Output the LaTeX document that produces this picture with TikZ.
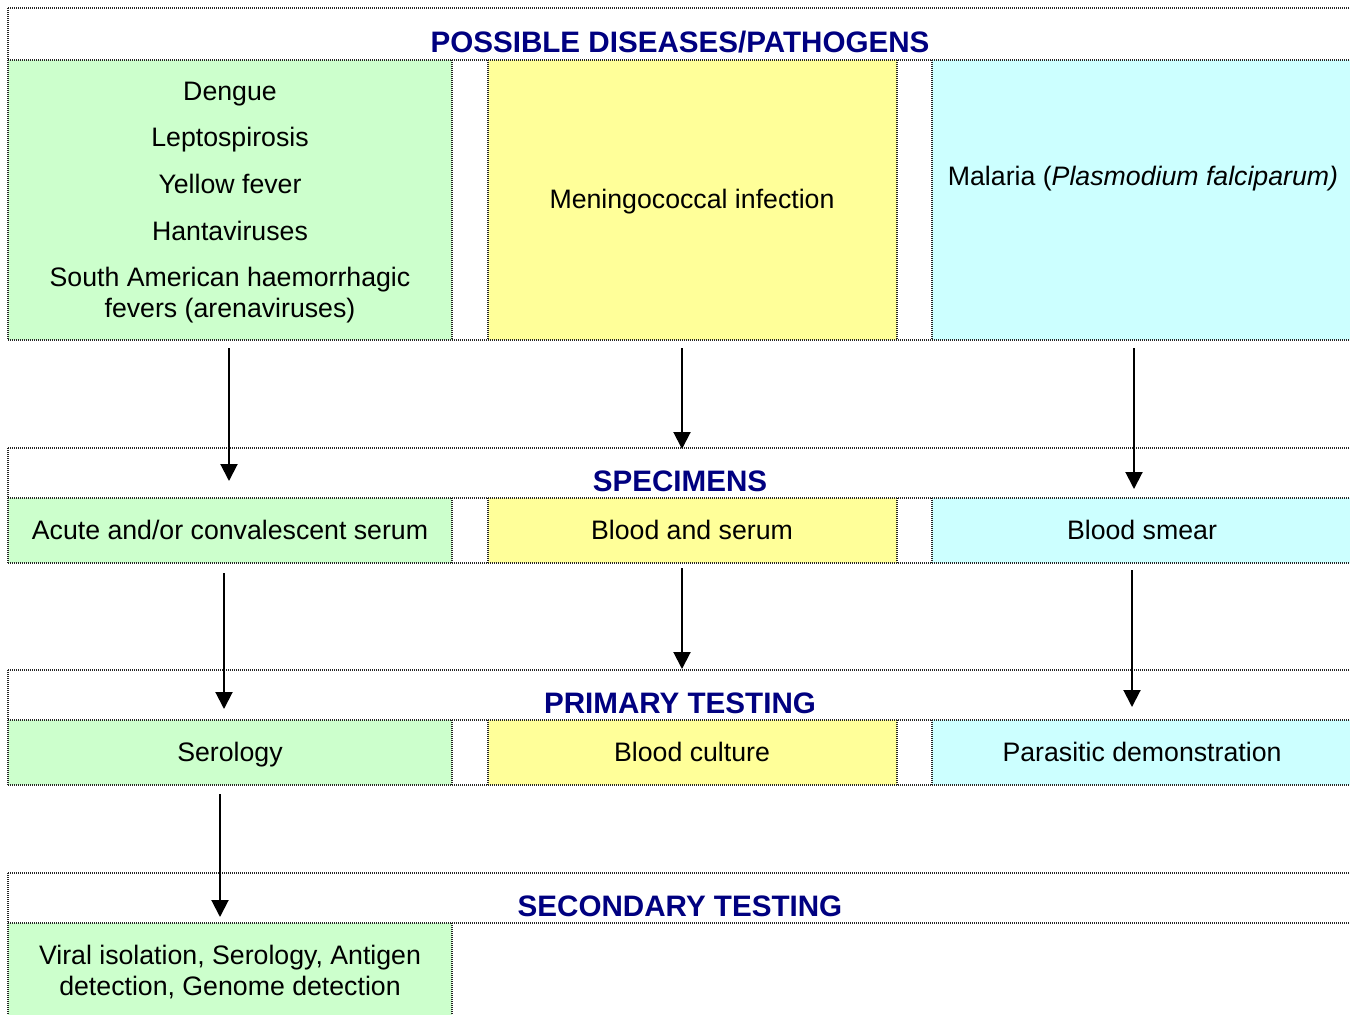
\documentclass[tikz,border=0pt]{standalone}
\usepackage{fontspec}
\setmainfont{Liberation Sans}
\usetikzlibrary{arrows.meta}
\definecolor{cgreen}{HTML}{CCFFCC}
\definecolor{cyellow}{HTML}{FFFF99}
\definecolor{ccyan}{HTML}{CCFFFF}
\definecolor{navy}{RGB}{0,0,128}
\tikzset{
  rule/.style={draw=black!85, line width=1.2pt, dash pattern=on 1pt off 1pt},
  txt/.style={anchor=base, inner sep=0pt, font=\fontsize{26.7}{31}\selectfont},
  head/.style={anchor=base, inner sep=0pt, text=navy, font=\fontsize{29.6}{34}\selectfont\bfseries},
  flow/.style={line width=2pt, -{Triangle[length=17pt, width=17pt]}},
}
\begin{document}
\begin{tikzpicture}[x=1pt, y=-1pt]
\useasboundingbox (0,0) rectangle (1350,1015);
\fill[white] (0,0) rectangle (1350,1015);

% coloured cells
\foreach \ya/\yb in {60/340, 498/563, 720/785} {
  \fill[cgreen]  (8,\ya)   rectangle (452,\yb);
  \fill[cyellow] (488,\ya) rectangle (897,\yb);
  \fill[ccyan]   (932,\ya) rectangle (1350,\yb);
}
\fill[cgreen] (8,923) rectangle (452,1015);

% table rules
\foreach \y in {8,60,340,448,498,563,670,720,785,873,923}
  \draw[rule] (8,\y) -- (1350,\y);
\foreach \ya/\yb in {8/340, 448/563, 670/785, 873/1015}
  \draw[rule] (8,\ya) -- (8,\yb);
\foreach \x in {452,488,897,932}
  \foreach \ya/\yb in {60/340, 498/563, 720/785}
    \draw[rule] (\x,\ya) -- (\x,\yb);
\draw[rule] (452,923) -- (452,1015);

% section headings
\node[head] (h1) at (680,52)  {POSSIBLE DISEASES/PATHOGENS};
\node[head] (h2) at (680,491) {SPECIMENS};
\node[head] (h3) at (680,713) {PRIMARY TESTING};
\node[head] (h4) at (680,916) {SECONDARY TESTING};

% diseases
\node[txt] (d1a) at (230,100) {Dengue};
\node[txt] (d1b) at (230,146) {Leptospirosis};
\node[txt] (d1c) at (230,193) {Yellow fever};
\node[txt] (d1d) at (230,240) {Hantaviruses};
\node[txt] (d1e) at (230,286) {South American haemorrhagic};
\node[txt] (d1f) at (230,317) {fevers (arenaviruses)};
\node[txt] (d2) at (692,208) {Meningococcal infection};
\node[txt] (d3) at (1143,185) {Malaria (\textit{Plasmodium falciparum)}};

% specimens
\node[txt] (s1) at (230,539) {Acute and/or convalescent serum};
\node[txt] (s2) at (692,539) {Blood and serum};
\node[txt] (s3) at (1142,539) {Blood smear};

% primary testing
\node[txt] (p1) at (230,761) {Serology};
\node[txt] (p2) at (692,761) {Blood culture};
\node[txt] (p3) at (1142,761) {Parasitic demonstration};

% secondary testing
\node[txt] (q1a) at (230,964) {Viral isolation, Serology, Antigen};
\node[txt] (q1b) at (230,995) {detection, Genome detection};

% arrow ends
\coordinate (a1s) at (229,348);  \coordinate (a1e) at (229,481);
\coordinate (a2s) at (682,348);  \coordinate (a2e) at (682,449);
\coordinate (a3s) at (1134,348); \coordinate (a3e) at (1134,489);
\coordinate (a4s) at (224,573);  \coordinate (a4e) at (224,709);
\coordinate (a5s) at (682,568);  \coordinate (a5e) at (682,669);
\coordinate (a6s) at (1132,570); \coordinate (a6e) at (1132,707);
\coordinate (a7s) at (220,794);  \coordinate (a7e) at (220,917);

\foreach \i in {1,...,7}
  \draw[flow] (a\i s) -- (a\i e);
\end{tikzpicture}
\end{document}
